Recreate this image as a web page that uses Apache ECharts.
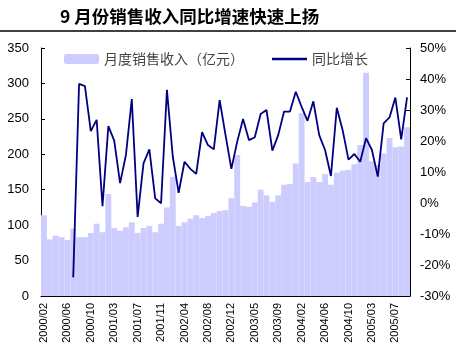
<!DOCTYPE html>
<html>
<head>
<meta charset="utf-8">
<script src="https://cdn.jsdelivr.net/npm/echarts@6/dist/echarts.min.js"></script>
<style>
  html, body { margin: 0; padding: 0; background: #fff; }
  #main { width: 456px; height: 351px; }
</style>
</head>
<body>
<div id="main"></div>
<script>
// 月份（每年1月数据并入2月）
var months = [
  '2000/02', '2000/03', '2000/04', '2000/05', '2000/06', '2000/07', '2000/08', '2000/09', '2000/10', '2000/11', '2000/12',
  '2001/02', '2001/03', '2001/04', '2001/05', '2001/06', '2001/07', '2001/08', '2001/09', '2001/10', '2001/11', '2001/12',
  '2002/02', '2002/03', '2002/04', '2002/05', '2002/06', '2002/07', '2002/08', '2002/09', '2002/10', '2002/11', '2002/12',
  '2003/02', '2003/03', '2003/04', '2003/05', '2003/06', '2003/07', '2003/08', '2003/09', '2003/10', '2003/11', '2003/12',
  '2004/02', '2004/03', '2004/04', '2004/05', '2004/06', '2004/07', '2004/08', '2004/09', '2004/10', '2004/11', '2004/12',
  '2005/02', '2005/03', '2005/04', '2005/05', '2005/06', '2005/07', '2005/08', '2005/09'
];

// 月度销售收入（亿元）
var sales = [
  114, 80, 85, 83, 79, 95, 83, 83, 89, 102, 90,
  144, 96, 92, 97, 104, 89, 96, 99, 90, 102, 125,
  168, 99, 104, 109, 114, 110, 113, 117, 120, 121, 138,
  199, 127, 126, 132, 150, 142, 133, 142, 157, 158, 187,
  258, 161, 168, 161, 172, 157, 174, 177, 178, 186, 213,
  315, 190, 185, 201, 223, 210, 211, 238
];

// 同比增长（%）
var growth = [
  null, null, null, null, null, -24, 38.4, 37.7, 23.2, 26.8, -1,
  24.8, 20.1, 6.4, 15.5, 33.5, -4.5, 12.8, 17.3, 1.5, -0.1, 36.5,
  15, 3.3, 13.3, 11, 9.4, 22.9, 18.7, 17.3, 33.2, 22, 11,
  19.8, 27.1, 20.3, 21.2, 28.7, 30, 16.9, 21.9, 29.5, 29.5, 35.9,
  31, 26.5, 32.8, 21.9, 17.1, 8.7, 30.7, 23.5, 14, 15.8, 13.3,
  20.9, 17.1, 8.5, 25.7, 27.6, 34, 20.5, 34.1
];

var chart = echarts.init(document.getElementById('main'));

var numFont = '"Liberation Sans", Arial, sans-serif';
var narrowFont = '"Liberation Sans Narrow", "Arial Narrow", "Liberation Sans", sans-serif';
var cjkFont = '"Noto Sans CJK SC", sans-serif';

chart.setOption({
  backgroundColor: '#fff',
  animation: false,
  title: {
    text: '9 月份销售收入同比增速快速上扬',
    left: 55,
    top: 3,
    textStyle: { fontSize: 17.5, fontWeight: 'bold', color: '#000', fontFamily: cjkFont }
  },
  graphic: [{
    type: 'line',
    shape: { x1: 0, y1: 31, x2: 456, y2: 31 },
    style: { stroke: '#000', lineWidth: 1.5 }
  }],
  legend: [{
    data: ['月度销售收入（亿元）'],
    left: 64,
    top: 52,
    padding: 0,
    itemWidth: 35,
    itemHeight: 10,
    itemGap: 4,
    textStyle: { fontSize: 14, color: '#444', fontFamily: cjkFont }
  }, {
    data: [{ name: '同比增长', icon: 'rect' }],
    left: 272,
    top: 52,
    padding: 0,
    itemWidth: 35,
    itemHeight: 2.5,
    textStyle: { fontSize: 14, color: '#444', fontFamily: cjkFont }
  }],
  grid: { left: 41, right: 46, top: 48, bottom: 55 },
  xAxis: {
    type: 'category',
    data: months,
    boundaryGap: true,
    axisLine: { lineStyle: { color: '#000', width: 1 } },
    axisTick: { inside: true, interval: 0, length: 4, lineStyle: { color: '#000' } },
    axisLabel: {
      rotate: 90,
      interval: 3,
      margin: 7,
      fontSize: 11,
      color: '#000',
      fontFamily: narrowFont
    }
  },
  yAxis: [{
    type: 'value',
    min: 0,
    max: 350,
    interval: 50,
    splitLine: { show: false },
    axisLine: { show: true, lineStyle: { color: '#000' } },
    axisTick: { show: true, inside: true, length: 4, lineStyle: { color: '#000' } },
    axisLabel: { fontSize: 13, color: '#000', margin: 12, fontFamily: numFont }
  }, {
    type: 'value',
    min: -30,
    max: 50,
    interval: 10,
    position: 'right',
    splitLine: { show: false },
    axisLine: { show: true, lineStyle: { color: '#000' } },
    axisTick: { show: true, inside: true, length: 4, lineStyle: { color: '#000' } },
    axisLabel: { formatter: '{value}%', fontSize: 13, color: '#000', margin: 10, fontFamily: numFont }
  }],
  series: [{
    name: '月度销售收入（亿元）',
    type: 'bar',
    data: sales,
    barCategoryGap: '0%',
    itemStyle: { color: '#ccccff' }
  }, {
    name: '同比增长',
    type: 'line',
    yAxisIndex: 1,
    data: growth,
    symbol: 'none',
    connectNulls: false,
    lineStyle: { color: '#000080', width: 1.8 },
    itemStyle: { color: '#000080' }
  }]
});
</script>
</body>
</html>
